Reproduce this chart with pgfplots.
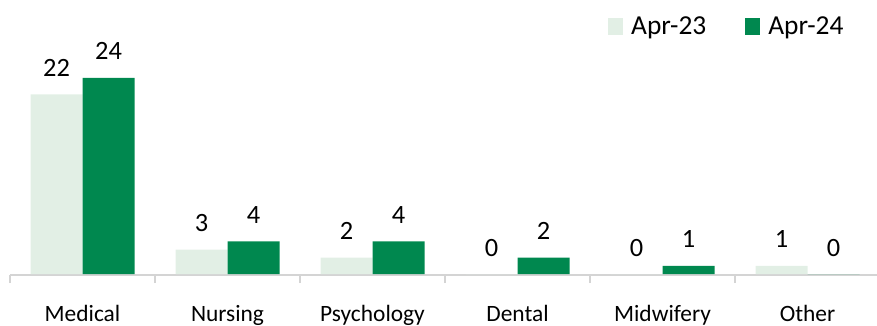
\documentclass[border=0pt]{standalone}
\usepackage{pgfplots}
\pgfplotsset{compat=1.18}
\usepackage{fontspec}
\setmainfont{Carlito}
\definecolor{lightg}{HTML}{E2EFE5}
\definecolor{darkg}{HTML}{00884F}
\definecolor{axgray}{HTML}{D4D4D4}
\begin{document}
\begin{tikzpicture}
\useasboundingbox (-10bp,-52bp) rectangle (867bp,274bp);
\begin{axis}[
  at={(0,0)}, anchor=south west,
  scale only axis,
  width=867bp, height=274bp,
  xmin=-0.5, xmax=5.479,
  ymin=0, ymax=33.55,
  ybar=0pt, bar width=52bp,
  axis y line=none,
  axis x line*=bottom,
  x axis line style={axgray, line width=1.4pt, -, yshift=-1bp},
  xtick={0,1,2,3,4,5},
  xticklabels={Medical,Nursing,Psychology,Dental,Midwifery,Other},
  major tick length=0pt,
  minor xtick={-0.5,0.5,1.5,2.5,3.5,4.5},
  minor tick length=8bp,
  xtick align=outside,
  minor tick style={axgray, line width=1.4pt, yshift=-1bp},
  xticklabel style={font=\fontsize{23.5}{28}\selectfont, anchor=base, yshift=-47bp},
  nodes near coords,
  every node near coord/.append style={font=\fontsize{26.5}{30}\selectfont, anchor=base, yshift=18bp, inner sep=0pt},
  /pgf/number format/assume math mode=true,
  legend style={at={(rel axis cs:0.6897,1)}, anchor=north west, draw=none, fill=none,
    font=\fontsize{27.5}{31}\selectfont, legend columns=2, inner sep=0pt, yshift=-15bp,
    /tikz/every odd column/.append style={column sep=6bp},
    /tikz/every even column/.append style={column sep=37bp}},
  legend image code/.code={\fill[#1] (0bp,-8bp) rectangle (15bp,9bp);},
  clip=false,
]
\addplot[fill=lightg, draw=none] coordinates {(0,22) (1,3) (2,2) (3,0) (4,0) (5,1)};
\addplot[fill=darkg, draw=none] coordinates {(0,24) (1,4) (2,4) (3,2) (4,1) (5,0)};
\legend{Apr-23,Apr-24}
\end{axis}
\end{tikzpicture}
\end{document}
